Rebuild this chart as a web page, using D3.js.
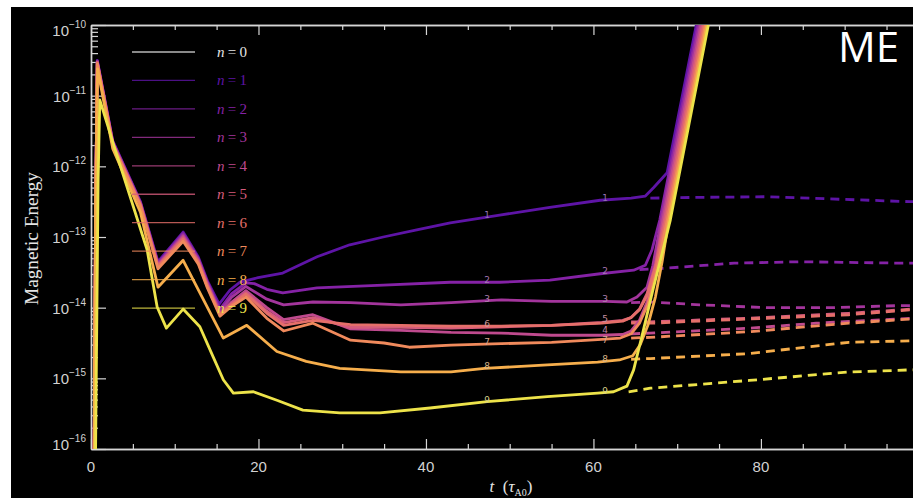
<!DOCTYPE html>
<html><head><meta charset="utf-8">
<script src="https://cdn.jsdelivr.net/npm/d3@7"></script>
<style>html,body{margin:0;padding:0;background:#fff;} svg{display:block}</style>
</head><body>
<svg id="chart" width="913" height="498"></svg>
<script>
// ---------- DATA (t in tau_A0, value = log10 of magnetic energy) ----------
const modes = [0,1,2,3,4,5,6,7,8,9];
const seriesColors = ['#e6e6e6','#5e14a6','#8522a6','#a3359c','#bf4a8e','#d65c7c','#e56f6a','#f08a5c','#f6ae4c','#ede34a'];

const solid1 = [[0.35,-16.6],[0.55,-12.6],[0.75,-10.50],[2.6,-11.64],[5.9,-12.50],[8.0,-13.35],[11.0,-12.93],[12.8,-13.28],[13.9,-13.62],[15.3,-13.95],[16.6,-13.75],[17.8,-13.64],[19.8,-13.58],[22.9,-13.51],[27.0,-13.28],[30.9,-13.11],[34.9,-13.00],[38.9,-12.90],[42.9,-12.80],[48.8,-12.69],[54.8,-12.58],[60.8,-12.48],[64.5,-12.45],[66.2,-12.42],[67.2,-12.30],[68.8,-12.09],[72.28,-10.0],[73.0,-9.56]];
const solid2 = [[0.35,-16.6],[0.55,-12.6],[0.75,-10.51],[2.6,-11.65],[5.9,-12.51],[8.0,-13.37],[11.0,-12.95],[12.8,-13.30],[13.9,-13.64],[15.4,-14.02],[16.8,-13.80],[18.5,-13.65],[19.5,-13.66],[21.0,-13.74],[22.9,-13.79],[27.0,-13.72],[34.9,-13.68],[42.9,-13.64],[48.8,-13.64],[54.8,-13.61],[60.8,-13.52],[64.8,-13.47],[66.2,-13.40],[67.0,-13.18],[67.92,-12.76],[72.46,-10.0],[73.2,-9.55]];
const solid3 = [[0.35,-16.6],[0.55,-12.6],[0.75,-10.52],[2.6,-11.66],[5.9,-12.52],[8.0,-13.38],[11.0,-12.97],[12.8,-13.31],[13.9,-13.65],[15.4,-14.05],[16.8,-13.85],[18.5,-13.70],[21.0,-13.88],[23.0,-13.96],[26.5,-13.92],[31.0,-13.93],[37.0,-13.96],[43.0,-13.93],[49.0,-13.89],[55.0,-13.91],[61.5,-13.91],[64.0,-13.92],[65.2,-13.85],[66.4,-13.71],[67.1,-13.40],[68.1,-12.76],[72.64,-10.0],[73.4,-9.55]];
const solid4 = [[0.35,-16.6],[0.55,-12.6],[0.75,-10.53],[2.6,-11.67],[5.9,-12.53],[8.0,-13.40],[11.0,-12.99],[12.8,-13.33],[13.9,-13.67],[15.4,-14.08],[16.8,-13.92],[18.5,-13.76],[21.0,-14.00],[23.0,-14.17],[26.5,-14.10],[31.0,-14.30],[37.0,-14.32],[43.0,-14.35],[49.0,-14.36],[55.0,-14.39],[61.0,-14.39],[63.5,-14.38],[64.5,-14.33],[65.5,-14.18],[66.4,-13.92],[67.3,-13.48],[68.28,-12.76],[72.82,-10.0],[73.6,-9.55]];
const solid5 = [[0.35,-16.6],[0.55,-12.6],[0.75,-10.53],[2.6,-11.68],[5.9,-12.54],[8.0,-13.41],[11.0,-13.01],[12.8,-13.34],[13.9,-13.68],[15.4,-14.09],[16.8,-13.94],[18.5,-13.79],[21.0,-14.05],[23.0,-14.21],[26.5,-14.14],[31.0,-14.28],[37.0,-14.28],[43.0,-14.29],[49.0,-14.27],[55.0,-14.25],[61.0,-14.21],[63.5,-14.18],[64.5,-14.14],[65.5,-14.02],[66.4,-13.80],[67.4,-13.40],[68.46,-12.76],[73.0,-10.0],[73.8,-9.55]];
const solid6 = [[0.35,-16.6],[0.55,-12.6],[0.75,-10.54],[2.6,-11.69],[5.9,-12.55],[8.0,-13.42],[11.0,-13.03],[12.8,-13.36],[13.9,-13.70],[15.4,-14.10],[16.8,-13.96],[18.5,-13.81],[21.0,-14.08],[23.0,-14.25],[26.5,-14.18],[31.0,-14.24],[37.0,-14.25],[43.0,-14.26],[49.0,-14.26],[55.0,-14.25],[61.0,-14.22],[63.5,-14.19],[64.5,-14.14],[65.5,-14.03],[66.4,-13.83],[67.5,-13.40],[68.64,-12.76],[73.18,-10.0],[74.0,-9.55]];
const solid7 = [[0.35,-16.6],[0.55,-12.6],[0.75,-10.55],[2.6,-11.70],[5.9,-12.56],[8.0,-13.45],[11.0,-13.06],[12.8,-13.38],[13.9,-13.72],[15.4,-14.12],[16.8,-13.98],[18.5,-13.85],[21.0,-14.15],[23.0,-14.33],[26.5,-14.22],[31.0,-14.46],[35.0,-14.50],[38.0,-14.56],[43.0,-14.53],[49.0,-14.51],[55.0,-14.49],[61.0,-14.45],[63.2,-14.43],[64.5,-14.37],[65.5,-14.22],[66.5,-13.95],[67.6,-13.45],[68.82,-12.76],[73.36,-10.0],[74.1,-9.55]];
const solid8 = [[0.35,-16.6],[0.55,-12.7],[0.78,-10.62],[2.6,-11.75],[5.9,-12.65],[8.0,-13.71],[11.0,-13.33],[15.8,-14.43],[18.6,-14.25],[22.2,-14.62],[25.7,-14.76],[29.7,-14.86],[37.0,-14.91],[43.0,-14.91],[47.0,-14.86],[54.5,-14.81],[60.5,-14.77],[63.1,-14.74],[64.7,-14.68],[65.6,-14.52],[66.5,-14.25],[67.4,-13.85],[68.2,-13.35],[69.0,-12.76],[73.54,-10.0],[74.3,-9.55]];
const solid9 = [[0.5,-16.6],[0.85,-12.2],[1.05,-11.06],[2.9,-11.77],[6.7,-13.18],[7.9,-13.99],[9.0,-14.29],[11.0,-14.02],[13.0,-14.27],[14.6,-14.70],[15.8,-15.02],[17.0,-15.21],[19.4,-15.19],[22.2,-15.31],[25.3,-15.45],[29.7,-15.49],[34.5,-15.49],[40.5,-15.42],[47.3,-15.33],[54.5,-15.26],[60.5,-15.21],[62.4,-15.19],[64.0,-15.11],[64.8,-14.88],[65.9,-14.35],[67.1,-13.75],[68.2,-13.23],[69.18,-12.76],[73.72,-10.0],[74.5,-9.55]];

const dashed1 = [[66.8,-12.45],[72.0,-12.44],[80.7,-12.43],[88.0,-12.46],[97.8,-12.50],[100,-12.50]];
const dashed2 = [[65.5,-13.46],[68.8,-13.44],[76.8,-13.37],[84.7,-13.35],[96.7,-13.37],[100,-13.37]];
const dashed3 = [[64.5,-13.93],[66.8,-13.92],[72.8,-13.96],[80.7,-14.00],[88.6,-14.00],[96.7,-13.97],[100,-13.97]];
const dashed4 = [[64.5,-14.37],[66.8,-14.36],[78.6,-14.29],[86.6,-14.22],[98.0,-14.15],[100,-14.14]];
const dashed5 = [[64.5,-14.20],[66.8,-14.20],[78.6,-14.15],[90.5,-14.08],[98.0,-14.02],[100,-14.00]];
const dashed6 = [[64.5,-14.22],[66.8,-14.22],[78.6,-14.16],[90.5,-14.10],[98.0,-14.03],[100,-14.02]];
const dashed7 = [[64.5,-14.43],[66.8,-14.42],[78.6,-14.34],[90.5,-14.22],[98.0,-14.16],[100,-14.15]];
const dashed8 = [[64.5,-14.73],[66.8,-14.72],[78.6,-14.65],[90.5,-14.49],[98.0,-14.47],[100,-14.46]];
const dashed9 = [[64.2,-15.19],[66.8,-15.14],[78.6,-15.03],[90.5,-14.91],[98.0,-14.88],[100,-14.87]];

const xMajorTicks = [0,20,40,60,80,100];
const xMinorTicks = [5,10,15,25,30,35,45,50,55,65,70,75,85,90,95];
const yDecadeExponents = [-16,-15,-14,-13,-12,-11,-10];
// curve annotations: which mode numbers are visible at each annotation time
const curveLabelTimes = [47.3, 61.4];
const curveLabelModes = [[1,2,3,6,7,8,9],[1,2,3,5,4,7,8,9]];

const solids = [null,solid1,solid2,solid3,solid4,solid5,solid6,solid7,solid8,solid9];
const dasheds = [null,dashed1,dashed2,dashed3,dashed4,dashed5,dashed6,dashed7,dashed8,dashed9];

// ---------- LAYOUT ----------
const W = 913, H = 498;
const L = 91, T = 25, B = 449, R = 928.4;
const svg = d3.select('#chart');
svg.append('rect').attr('x',11).attr('y',7).attr('width',W-11).attr('height',H-7).attr('fill','#000');

const x = d3.scaleLinear().domain([0,100]).range([L,R]);
const y = d3.scaleLog().domain([1e-16,1e-10]).range([B,T]);
const yv = v => y(Math.pow(10, v));

svg.append('defs').append('clipPath').attr('id','plotclip')
  .append('rect').attr('x',L).attr('y',T).attr('width',R-L).attr('height',B-T);

const axisColor = '#d6d6d6';
const yMajor = yDecadeExponents.map(e => Math.pow(10,e));
const yMinor = [];
yDecadeExponents.slice(0,-1).forEach(e => { for (let m=2;m<=9;m++) yMinor.push(m*Math.pow(10,e)); });

function styleAxis(g){
  g.selectAll('path').attr('stroke',axisColor).attr('stroke-width',1.4);
  g.selectAll('line').attr('stroke',axisColor).attr('stroke-width',1.2);
  g.selectAll('text').remove();
}
svg.append('g').attr('transform',`translate(0,${B})`)
  .call(d3.axisBottom(x).tickValues(xMajorTicks).tickSize(-10).tickSizeOuter(0).tickFormat(''))
  .call(styleAxis);
svg.append('g').attr('transform',`translate(0,${B})`)
  .call(d3.axisBottom(x).tickValues(xMinorTicks).tickSize(-5).tickSizeOuter(0).tickFormat(''))
  .call(styleAxis);
svg.append('g').attr('transform',`translate(0,${T})`)
  .call(d3.axisTop(x).tickValues(xMajorTicks).tickSize(-10).tickSizeOuter(0).tickFormat(''))
  .call(styleAxis);
svg.append('g').attr('transform',`translate(0,${T})`)
  .call(d3.axisTop(x).tickValues(xMinorTicks).tickSize(-5).tickSizeOuter(0).tickFormat(''))
  .call(styleAxis);
svg.append('g').attr('transform',`translate(${L},0)`)
  .call(d3.axisLeft(y).tickValues(yMajor).tickSize(-15).tickSizeOuter(0).tickFormat(''))
  .call(styleAxis);
svg.append('g').attr('transform',`translate(${L},0)`)
  .call(d3.axisLeft(y).tickValues(yMinor).tickSize(-7).tickSizeOuter(0).tickFormat(''))
  .call(styleAxis);
svg.append('g').attr('transform',`translate(${R},0)`)
  .call(d3.axisRight(y).tickValues(yMajor).tickSize(-15).tickSizeOuter(0).tickFormat(''))
  .call(styleAxis);
svg.append('g').attr('transform',`translate(${R},0)`)
  .call(d3.axisRight(y).tickValues(yMinor).tickSize(-7).tickSizeOuter(0).tickFormat(''))
  .call(styleAxis);

// x tick labels
svg.append('g').selectAll('text').data(xMajorTicks.filter(v => x(v) < W-5)).join('text')
  .attr('x', d => x(d)).attr('y', B + 23)
  .attr('text-anchor','middle')
  .attr('font-family','"Liberation Sans", Arial, sans-serif').attr('font-size',15)
  .attr('fill','#d2d2d2').text(d => d);

// y tick labels 10^e
const ylab = svg.append('g').selectAll('text').data(yDecadeExponents).join('text')
  .attr('x', 86)
  .attr('y', d => yv(d) + 6 + (d === -10 ? 5 : 0) + (d === -16 ? -5 : 0))
  .attr('text-anchor','end')
  .attr('font-family','"Liberation Sans", Arial, sans-serif')
  .attr('fill','#d2d2d2');
ylab.append('tspan').attr('font-size',15).text('10');
ylab.append('tspan').attr('font-size',10).attr('dy',-8).text(d => '\u2212' + Math.abs(d));

// axis titles
svg.append('text')
  .attr('transform','translate(38,238.5) rotate(-90)')
  .attr('text-anchor','middle')
  .attr('font-family','"Liberation Serif", "Times New Roman", serif')
  .attr('font-size',19).attr('fill','#e4e4e4')
  .attr('textLength',133).attr('lengthAdjust','spacingAndGlyphs')
  .text('Magnetic Energy');

const xt = svg.append('text').attr('x',511).attr('y',492).attr('text-anchor','middle')
  .attr('font-family','"Liberation Serif", "Times New Roman", serif')
  .attr('font-size',17).attr('fill','#e4e4e4');
xt.append('tspan').attr('font-style','italic').text('t');
xt.append('tspan').text('\u00a0\u00a0(');
xt.append('tspan').attr('font-style','italic').text('\u03c4');
xt.append('tspan').attr('font-size',10).attr('dy',4).text('A0');
xt.append('tspan').attr('dy',-4).text(')');

// ---------- CURVES ----------
const line = d3.line().x(d => x(d[0])).y(d => yv(d[1])).curve(d3.curveLinear);
const plot = svg.append('g').attr('clip-path','url(#plotclip)');

for (let n=1;n<=9;n++){
  plot.append('path').datum(dasheds[n]).attr('d',line)
    .attr('fill','none').attr('stroke',seriesColors[n]).attr('stroke-width',2.8)
    .attr('stroke-dasharray','9,6');
}
for (let n=1;n<=9;n++){
  plot.append('path').datum(solids[n]).attr('d',line)
    .attr('fill','none').attr('stroke',seriesColors[n]).attr('stroke-width',2.8)
    .attr('stroke-linejoin','round');
}

// curve labels (placed on each curve at the annotation time)
function valueAt(series, t){
  for (let i=1;i<series.length;i++){
    if (series[i][0] >= t){
      const a = series[i-1], b = series[i];
      const f = (t-a[0])/(b[0]-a[0]);
      return a[1] + f*(b[1]-a[1]);
    }
  }
  return series[series.length-1][1];
}
const lab = svg.append('g');
curveLabelTimes.forEach((t,k) => {
  curveLabelModes[k].forEach(n => {
    let dy = 1;
    if (k === 1 && n === 4) dy = -2;
    if (k === 1 && n === 7) dy = 4;
    if (k === 1 && n === 5) dy = 0;
    lab.append('text').attr('x', x(t)).attr('y', yv(valueAt(solids[n], t)) + dy)
      .attr('text-anchor','middle')
      .attr('font-family','"DejaVu Sans", sans-serif').attr('font-size',9)
      .attr('fill', d3.interpolateRgb(seriesColors[n], '#bdbdbd')(0.55))
      .text(n);
  });
});

// ---------- LEGEND ----------
const lg = svg.append('g');
modes.forEach((n,i) => {
  const yy = 52 + i*28.45;
  lg.append('line').attr('x1',132).attr('x2',195).attr('y1',yy).attr('y2',yy)
    .attr('stroke',seriesColors[n]).attr('stroke-width',1.3).attr('opacity',0.8);
  const tx = lg.append('text').attr('x',217).attr('y',yy+5)
    .attr('font-family','"Liberation Serif", "Times New Roman", serif')
    .attr('font-size',15).attr('fill',seriesColors[n])
    .attr('textLength',30).attr('lengthAdjust','spacing');
  tx.append('tspan').attr('font-style','italic').text('n');
  tx.append('tspan').text('=' + n);
});

// ---------- OVERLAY TITLE ----------
svg.append('text').attr('x',838).attr('y',62)
  .attr('font-family','"Open Sans", "Noto Sans", sans-serif').attr('font-size',42)
  .attr('fill','#ffffff').text('ME');
</script>
</body></html>
